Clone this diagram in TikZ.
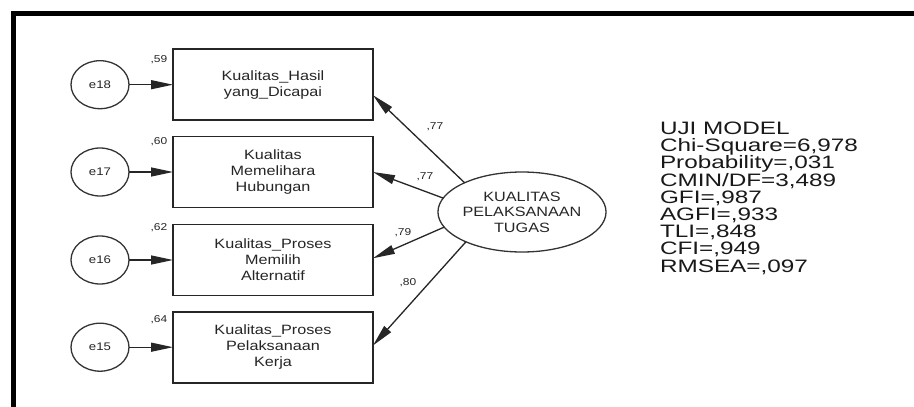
\documentclass[tikz,border=0pt]{standalone}
\usepackage{fontspec}
\setmainfont{Liberation Sans}[FakeStretch=1.2]
\newfontfamily\summaryfont{Liberation Sans}[FakeStretch=1.35]
\usetikzlibrary{arrows.meta,calc,shapes.geometric}

\begin{document}
\begin{tikzpicture}[x=1pt,y=-1pt,
  every node/.style={inner sep=0pt, outer sep=0pt},
  obsbox/.style={draw=black!85, line width=1.6pt, minimum width=200pt, minimum height=71pt,
    align=center, text=black!85, font=\fontsize{13.5}{16}\selectfont},
  errvar/.style={draw=black!80, ellipse, line width=1.3pt, minimum width=58pt, minimum height=48pt,
    text=black!85, font=\fontsize{11}{13}\selectfont},
  latent/.style={draw=black!80, ellipse, line width=1.3pt, minimum width=139pt, minimum height=80pt,
    align=center, text=black!85, font=\fontsize{13.5}{15.5}\selectfont},
  link/.style={draw=black!85, line width=1.3pt, -{Triangle[length=22pt,width=9pt]}},
  coef/.style={text=black!85, font=\fontsize{10}{12}\selectfont}
]
\useasboundingbox (0,0) rectangle (914,407);
\fill[white] (0,0) rectangle (914,407);

% outer frame (top and left edges)
\draw[line width=5.5pt] (13.3,407) -- (13.3,13.7) -- (914,13.7);

% indicators
\node[obsbox] (b1) at (273,84.7) {Kualitas\_Hasil\\yang\_Dicapai};
\node[obsbox] (b2) at (273,172) {Kualitas\\Memelihara\\Hubungan};
\node[obsbox] (b3) at (273,260) {Kualitas\_Proses\\Memilih\\Alternatif};
\node[obsbox] (b4) at (273,347.2) {Kualitas\_Proses\\Pelaksanaan\\Kerja};

% error terms
\node[errvar] (e18) at (100,84.7) {e18};
\node[errvar] (e17) at (100,172) {e17};
\node[errvar] (e16) at (100,260) {e16};
\node[errvar] (e15) at (100,347.2) {e15};

\draw[link] (e18) -- (b1);
\draw[link] (e17) -- (b2);
\draw[link] (e16) -- (b3);
\draw[link] (e15) -- (b4);

% squared multiple correlations
\node[coef] (r1) at ($(b1.north west)+(-14,10)$) {,59};
\node[coef] (r2) at ($(b2.north west)+(-14,5)$) {,60};
\node[coef] (r3) at ($(b3.north west)+(-14,3)$) {,62};
\node[coef] (r4) at ($(b4.north west)+(-14,8)$) {,64};

% latent factor
\node[latent] (F) at (522,212) {KUALITAS\\PELAKSANAAN\\TUGAS};

\draw[link] (F.153) -- (b1.-6);
\draw[link] (F.170) -- (b2.east);
\draw[link] (F.191) -- (b3.1);
\draw[link] (F.208) -- (b4.1);

% standardized loadings
\node[coef] (l1) at (435,127) {,77};
\node[coef] (l2) at (425,177) {,77};
\node[coef] (l3) at (403,233) {,79};
\node[coef] (l4) at (408,283) {,80};

% fit summary
\node[anchor=north west, align=left, text=black!90, font=\summaryfont\fontsize{18}{17.2}\selectfont] (fit) at (660,122)
  {UJI MODEL\\Chi-Square=6,978\\Probability=,031\\CMIN/DF=3,489\\GFI=,987\\AGFI=,933\\TLI=,848\\CFI=,949\\RMSEA=,097};
\end{tikzpicture}
\end{document}
